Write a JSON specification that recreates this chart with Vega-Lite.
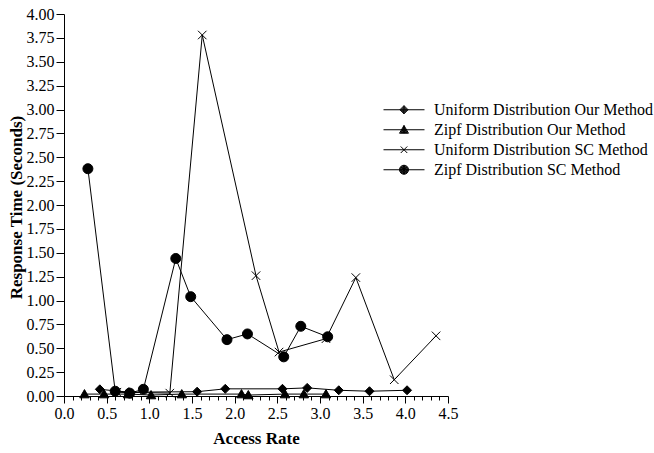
{
  "$schema": "https://vega.github.io/schema/vega-lite/v6.json",
  "width": 384,
  "height": 382,
  "autosize": {"type": "none"},
  "padding": {"left": 64, "top": 14, "right": 206, "bottom": 57},
  "background": "white",
  "config": {
    "font": "Liberation Serif",
    "view": {"stroke": null},
    "axis": {
      "grid": false,
      "domainColor": "black",
      "domainWidth": 1,
      "tickColor": "black",
      "tickWidth": 1,
      "labelColor": "black",
      "titleColor": "black",
      "labelFont": "Liberation Serif",
      "titleFont": "Liberation Serif",
      "labelFontSize": 16,
      "titleFontSize": 17,
      "titleFontWeight": "bold",
      "labelOverlap": false,
      "labelFlush": false
    }
  },
  "data": {
    "values": [
      {"series": "Uniform Distribution Our Method", "x": 0.42, "y": 0.07},
      {"series": "Uniform Distribution Our Method", "x": 0.76, "y": 0.04},
      {"series": "Uniform Distribution Our Method", "x": 1.56, "y": 0.045},
      {"series": "Uniform Distribution Our Method", "x": 1.89, "y": 0.075},
      {"series": "Uniform Distribution Our Method", "x": 2.56, "y": 0.075},
      {"series": "Uniform Distribution Our Method", "x": 2.85, "y": 0.085},
      {"series": "Uniform Distribution Our Method", "x": 3.22, "y": 0.06},
      {"series": "Uniform Distribution Our Method", "x": 3.58, "y": 0.05},
      {"series": "Uniform Distribution Our Method", "x": 4.02, "y": 0.06},
      {"series": "Zipf Distribution Our Method", "x": 0.24, "y": 0.02},
      {"series": "Zipf Distribution Our Method", "x": 0.47, "y": 0.02},
      {"series": "Zipf Distribution Our Method", "x": 0.75, "y": 0.02},
      {"series": "Zipf Distribution Our Method", "x": 1.02, "y": 0.01},
      {"series": "Zipf Distribution Our Method", "x": 1.38, "y": 0.02},
      {"series": "Zipf Distribution Our Method", "x": 2.08, "y": 0.02},
      {"series": "Zipf Distribution Our Method", "x": 2.16, "y": 0.01},
      {"series": "Zipf Distribution Our Method", "x": 2.59, "y": 0.02},
      {"series": "Zipf Distribution Our Method", "x": 2.81, "y": 0.02},
      {"series": "Zipf Distribution Our Method", "x": 3.07, "y": 0.02},
      {"series": "Uniform Distribution SC Method", "x": 0.62, "y": 0.04},
      {"series": "Uniform Distribution SC Method", "x": 1.24, "y": 0.03},
      {"series": "Uniform Distribution SC Method", "x": 1.62, "y": 3.78},
      {"series": "Uniform Distribution SC Method", "x": 2.25, "y": 1.26},
      {"series": "Uniform Distribution SC Method", "x": 2.52, "y": 0.46},
      {"series": "Uniform Distribution SC Method", "x": 3.07, "y": 0.6},
      {"series": "Uniform Distribution SC Method", "x": 3.42, "y": 1.24},
      {"series": "Uniform Distribution SC Method", "x": 3.87, "y": 0.17},
      {"series": "Uniform Distribution SC Method", "x": 4.36, "y": 0.63},
      {"series": "Zipf Distribution SC Method", "x": 0.28, "y": 2.38},
      {"series": "Zipf Distribution SC Method", "x": 0.6, "y": 0.05},
      {"series": "Zipf Distribution SC Method", "x": 0.77, "y": 0.03},
      {"series": "Zipf Distribution SC Method", "x": 0.93, "y": 0.07},
      {"series": "Zipf Distribution SC Method", "x": 1.31, "y": 1.44},
      {"series": "Zipf Distribution SC Method", "x": 1.485, "y": 1.04},
      {"series": "Zipf Distribution SC Method", "x": 1.91, "y": 0.59},
      {"series": "Zipf Distribution SC Method", "x": 2.15, "y": 0.65},
      {"series": "Zipf Distribution SC Method", "x": 2.575, "y": 0.41},
      {"series": "Zipf Distribution SC Method", "x": 2.775, "y": 0.73},
      {"series": "Zipf Distribution SC Method", "x": 3.09, "y": 0.62}
    ]
  },
  "encoding": {
    "x": {
      "field": "x",
      "type": "quantitative",
      "scale": {"domain": [0, 4.5], "nice": false, "zero": false},
      "axis": {
        "title": "Access Rate",
        "values": [0,0.1,0.2,0.3,0.4,0.5,0.6,0.7,0.8,0.9,1,1.1,1.2,1.3,1.4,1.5,1.6,1.7,1.8,1.9,2,2.1,2.2,2.3,2.4,2.5,2.6,2.7,2.8,2.9,3,3.1,3.2,3.3,3.4,3.5,3.6,3.7,3.8,3.9,4,4.1,4.2,4.3,4.4,4.5],
        "tickSize": {"condition": {"test": "abs(datum.value*2 - round(datum.value*2)) < 0.001", "value": 7}, "value": 4},
        "labelExpr": "abs(datum.value*2 - round(datum.value*2)) < 0.001 ? format(datum.value, '.1f') : ''",
        "labelPadding": 2,
        "titleX": 192,
        "titleY": 42,
        "titleAlign": "center",
        "titleBaseline": "middle"
      }
    },
    "y": {
      "field": "y",
      "type": "quantitative",
      "scale": {"domain": [0, 4], "nice": false},
      "axis": {
        "title": "Response Time (Seconds)",
        "values": [0,0.25,0.5,0.75,1,1.25,1.5,1.75,2,2.25,2.5,2.75,3,3.25,3.5,3.75,4],
        "format": ".2f",
        "tickSize": 8,
        "labelPadding": 2,
        "titleX": -48,
        "titleY": 193,
        "titleAngle": -90,
        "titleAlign": "center",
        "titleBaseline": "middle"
      }
    }
  },
  "layer": [
    {
      "mark": {"type": "line", "color": "black", "strokeWidth": 1},
      "encoding": {"detail": {"field": "series", "type": "nominal"}}
    },
    {
      "mark": {"type": "point", "fill": "black", "stroke": "black", "strokeWidth": 1, "opacity": 1, "fillOpacity": 1, "size": 100},
      "encoding": {
        "shape": {
          "field": "series",
          "type": "nominal",
          "scale": {
            "domain": ["Uniform Distribution Our Method", "Zipf Distribution Our Method", "Uniform Distribution SC Method", "Zipf Distribution SC Method"],
            "range": ["M0,-0.9L0.9,0L0,0.9L-0.9,0Z", "M0,-0.9L0.95,0.75L-0.95,0.75Z", "M-0.85,-0.85L0.85,0.85M-0.85,0.85L0.85,-0.85", "circle"]
          },
          "legend": null
        }
      }
    },
    {
      "transform": [{"filter": "datum.y > 100"}],
      "mark": {"type": "point", "filled": false, "color": "black", "strokeWidth": 1, "opacity": 1, "size": 1681},
      "encoding": {
        "shape": {
          "field": "series",
          "type": "nominal",
          "scale": {
            "domain": ["Uniform Distribution Our Method", "Zipf Distribution Our Method", "Uniform Distribution SC Method", "Zipf Distribution SC Method"],
            "range": [
              "M-1,0L1,0M0,-0.2L0.2,0L0,0.2L-0.2,0ZM0,-0.15L0.15,0L0,0.15L-0.15,0ZM0,-0.1L0.1,0L0,0.1L-0.1,0ZM0,-0.05L0.05,0L0,0.05L-0.05,0ZM0,-0.2L0,0.2",
              "M-1,0L1,0M0,-0.21L0.22,0.17L-0.22,0.17ZM0,-0.147L0.165,0.138L-0.165,0.138ZM0,-0.084L0.11,0.107L-0.11,0.107ZM0,-0.02L0.055,0.075L-0.055,0.075ZM0,-0.21L0,0.17",
              "M-1,0L1,0M-0.16,-0.16L0.16,0.16M-0.16,0.16L0.16,-0.16",
              "M-1,0L1,0M0.22,0A0.22,0.22,0,1,1,-0.22,0A0.22,0.22,0,1,1,0.22,0ZM0.19,0A0.19,0.19,0,1,1,-0.19,0A0.19,0.19,0,1,1,0.19,0ZM0.16,0A0.16,0.16,0,1,1,-0.16,0A0.16,0.16,0,1,1,0.16,0ZM0.13,0A0.13,0.13,0,1,1,-0.13,0A0.13,0.13,0,1,1,0.13,0ZM0.1,0A0.1,0.1,0,1,1,-0.1,0A0.1,0.1,0,1,1,0.1,0ZM0.07,0A0.07,0.07,0,1,1,-0.07,0A0.07,0.07,0,1,1,0.07,0ZM0.04,0A0.04,0.04,0,1,1,-0.04,0A0.04,0.04,0,1,1,0.04,0ZM0,-0.22L0,0.22M-0.15,-0.15L0.15,0.15M-0.15,0.15L0.15,-0.15"
            ]
          },
          "legend": {
            "orient": "none",
            "legendX": 319,
            "legendY": 86,
            "title": null,
            "labelFont": "Liberation Serif",
            "labelFontSize": 16,
            "labelColor": "black",
            "labelLimit": 400,
            "symbolSize": 1681,
            "symbolStrokeColor": "black",
            "symbolStrokeWidth": 1,
            "symbolOpacity": 1,
            "clipHeight": 19.5,
            "rowPadding": 0,
            "labelOffset": 9,
            "padding": 0
          }
        }
      }
    }
  ],
  "resolve": {"scale": {"shape": "independent"}}
}
